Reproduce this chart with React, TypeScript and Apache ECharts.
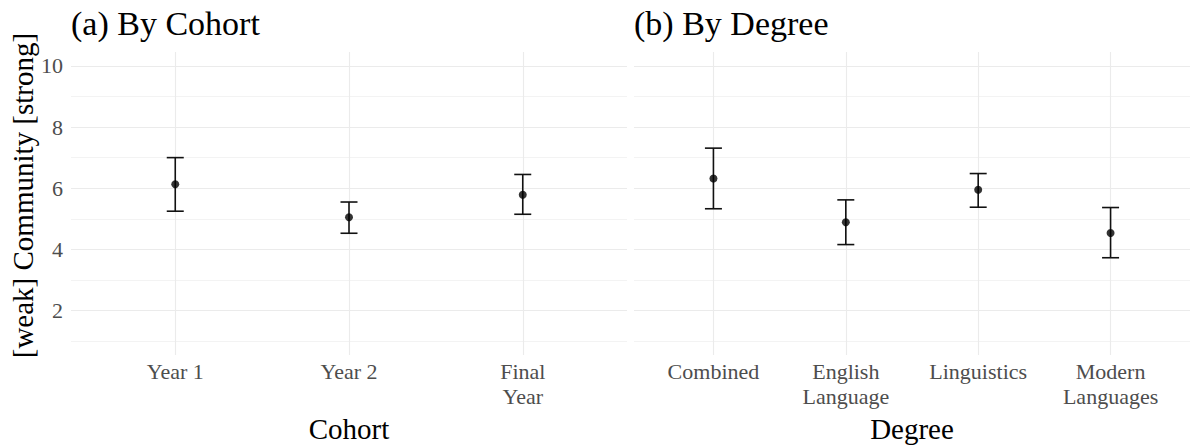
import React, { useEffect, useRef } from "react";
import * as echarts from "echarts";

// ---- data ----
const cohortLabels = ["Year 1", "Year 2", "Final\nYear"];
const cohortMean = [6.13, 5.05, 5.79];
const cohortLow = [5.25, 4.53, 5.15];
const cohortHigh = [7.0, 5.55, 6.45];

const degreeLabels = ["Combined", "English\nLanguage", "Linguistics", "Modern\nLanguages"];
const degreeMean = [6.32, 4.89, 5.95, 4.54];
const degreeLow = [5.33, 4.16, 5.38, 3.73];
const degreeHigh = [7.31, 5.62, 6.48, 5.37];

const yMajorTicks = [2, 4, 6, 8, 10];
const yMinorTicks = [1, 3, 5, 7, 9];

const panelTitles = ["(a) By Cohort", "(b) By Degree"];
const xTitles = ["Cohort", "Degree"];
const yTitle = "[weak] Community [strong]";

const FONT = "'Liberation Serif', 'Times New Roman', serif";
const GRID_COLOR = "#ebebeb";
const TICK_COLOR = "#4d4d4d";

function gridLinesSeries(idx: number, n: number) {
  const data: any[] = [];
  yMajorTicks.forEach((v) => data.push({ yAxis: v, lineStyle: { width: 1.1 } }));
  yMinorTicks.forEach((v) => data.push({ yAxis: v, lineStyle: { width: 0.6 } }));
  for (let i = 0; i < n; i++) data.push({ xAxis: i, lineStyle: { width: 1.1 } });
  return {
    type: "line",
    xAxisIndex: idx,
    yAxisIndex: idx,
    data: [],
    z: 0,
    silent: true,
    markLine: {
      z: 0,
      zlevel: 0,
      silent: true,
      symbol: ["none", "none"],
      label: { show: false },
      lineStyle: { color: GRID_COLOR, type: "solid" },
      emphasis: { disabled: true },
      data,
    },
  };
}

function errorSeries(idx: number, low: number[], high: number[]) {
  return {
    type: "custom",
    xAxisIndex: idx,
    yAxisIndex: idx,
    z: 10,
    silent: true,
    data: low.map((l, i) => [i, l, high[i]]),
    renderItem: (params: any, api: any) => {
      const x = api.value(0);
      const lo = api.coord([x, api.value(1)]);
      const hi = api.coord([x, api.value(2)]);
      const hw = 8.5;
      const style = { stroke: "#111", lineWidth: 1.6, fill: null };
      return {
        type: "group",
        children: [
          { type: "line", shape: { x1: lo[0], y1: lo[1], x2: hi[0], y2: hi[1] }, style },
          { type: "line", shape: { x1: hi[0] - hw, y1: hi[1], x2: hi[0] + hw, y2: hi[1] }, style },
          { type: "line", shape: { x1: lo[0] - hw, y1: lo[1], x2: lo[0] + hw, y2: lo[1] }, style },
        ],
      };
    },
  };
}

function pointSeries(idx: number, mean: number[]) {
  return {
    type: "scatter",
    xAxisIndex: idx,
    yAxisIndex: idx,
    z: 11,
    symbol: "circle",
    symbolSize: 8,
    itemStyle: { color: "#000" },
    data: mean.map((m, i) => [i, m]),
  };
}

function xAxis(idx: number, labels: string[], name: string) {
  return {
    type: "value",
    gridIndex: idx,
    min: -0.6,
    max: labels.length - 1 + 0.6,
    axisLine: { show: false },
    axisTick: { show: false },
    splitLine: { show: false },
    axisLabel: {
      customValues: labels.map((_, i) => i),
      formatter: (v: number) => labels[Math.round(v)] ?? "",
      fontFamily: FONT,
      fontSize: 22,
      lineHeight: 25,
      color: TICK_COLOR,
      margin: 4,
      align: "center",
    },
    name,
    nameLocation: "middle",
    nameGap: 55,
    nameTextStyle: { fontFamily: FONT, fontSize: 29, color: "#000" },
  };
}

function yAxis(idx: number, showLabels: boolean) {
  return {
    type: "value",
    gridIndex: idx,
    min: 0.55,
    max: 10.45,
    axisLine: { show: false },
    axisTick: { show: false },
    splitLine: { show: false },
    axisLabel: {
      show: showLabels,
      customValues: yMajorTicks,
      fontFamily: FONT,
      fontSize: 22,
      color: TICK_COLOR,
      margin: 8,
    },
    name: showLabels ? yTitle : "",
    nameLocation: "middle",
    nameRotate: 90,
    nameGap: 32,
    nameTextStyle: { fontFamily: FONT, fontSize: 29, color: "#000", padding: [0, 0, 0, 16] },
  };
}

export default function App() {
  const ref = useRef<HTMLDivElement>(null);
  useEffect(() => {
    if (!ref.current) return;
    const chart = echarts.init(ref.current, undefined, { renderer: "svg" });
    chart.setOption({
      animation: false,
      backgroundColor: "#fff",
      title: [
        {
          text: panelTitles[0],
          left: 71,
          top: 6,
          padding: 0,
          textStyle: { fontFamily: FONT, fontSize: 34, fontWeight: "normal", color: "#000" },
        },
        {
          text: panelTitles[1],
          left: 634,
          top: 6,
          padding: 0,
          textStyle: { fontFamily: FONT, fontSize: 34, fontWeight: "normal", color: "#000" },
        },
      ],
      grid: [
        { left: 71, top: 52, width: 556, height: 312, containLabel: false },
        { left: 634, top: 52, width: 556, height: 312, containLabel: false },
      ],
      xAxis: [xAxis(0, cohortLabels, xTitles[0]), xAxis(1, degreeLabels, xTitles[1])],
      yAxis: [yAxis(0, true), yAxis(1, false)],
      series: [
        gridLinesSeries(0, cohortLabels.length),
        gridLinesSeries(1, degreeLabels.length),
        errorSeries(0, cohortLow, cohortHigh),
        errorSeries(1, degreeLow, degreeHigh),
        pointSeries(0, cohortMean),
        pointSeries(1, degreeMean),
      ],
    });
    return () => chart.dispose();
  }, []);
  return (
    <div
      ref={ref}
      style={{ position: "fixed", left: 0, top: 0, width: 1190, height: 448 }}
    />
  );
}
